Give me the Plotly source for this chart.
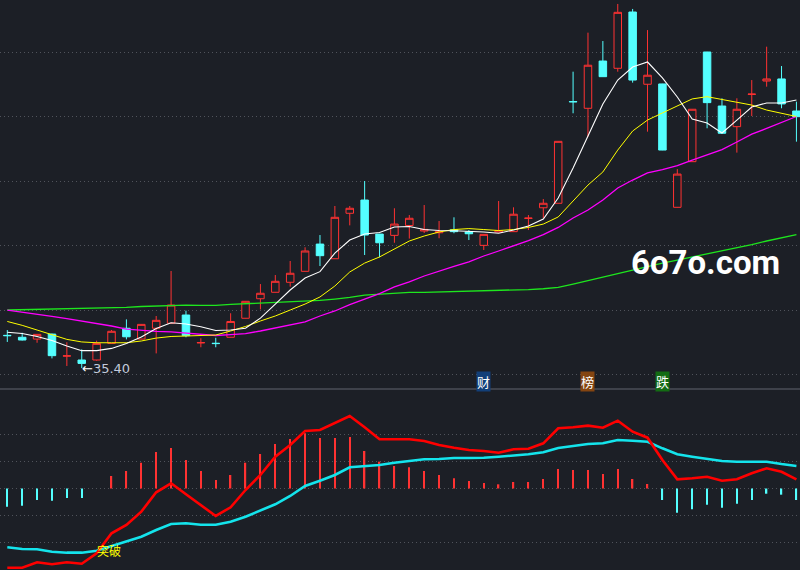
import plotly.graph_objects as go

# ---------------------------------------------------------------------------
# Data
# ---------------------------------------------------------------------------
opens = [37.43, 37.31, 37.20, 37.51, 36.14, 35.90, 35.90, 36.93, 37.87, 37.20,
         37.87, 38.18, 38.69, 36.96, 36.94, 37.31, 38.49, 39.70, 40.10, 40.72,
         41.40, 43.09, 42.18, 45.00, 45.82, 43.71, 43.63, 44.24, 43.90, 43.79,
         43.98, 43.84, 43.01, 43.84, 43.86, 44.68, 45.34, 45.62, 51.93, 51.51,
         54.44, 53.99, 57.48, 53.00, 53.02, 45.37, 48.20, 55.00, 51.65, 50.37,
         52.37, 53.20, 53.33, 51.34]
highs = [37.76, 37.59, 37.49, 37.54, 37.00, 36.56, 37.10, 37.76, 38.42, 38.13,
         38.63, 41.42, 38.96, 37.25, 37.28, 38.80, 39.55, 40.61, 41.17, 42.04,
         42.89, 43.65, 45.45, 45.45, 47.00, 43.72, 45.31, 44.89, 45.51, 44.52,
         44.75, 43.96, 43.70, 45.76, 45.37, 44.89, 45.88, 49.47, 53.78, 56.20,
         55.68, 57.98, 57.67, 56.36, 53.03, 47.74, 51.46, 55.01, 52.13, 52.13,
         53.26, 55.33, 54.13, 51.92]
lows = [37.02, 37.11, 36.97, 36.00, 35.53, 35.40, 35.86, 36.92, 37.18, 37.19,
        36.31, 38.17, 37.31, 36.69, 36.69, 37.30, 38.48, 39.04, 40.09, 40.45,
        41.39, 41.73, 42.17, 44.25, 42.41, 42.27, 43.17, 43.43, 43.78, 43.45,
        43.76, 43.34, 42.72, 43.83, 43.85, 43.96, 44.69, 45.61, 51.20, 49.75,
        53.46, 53.78, 53.10, 50.06, 48.91, 45.36, 48.19, 50.27, 49.95, 48.76,
        51.03, 52.85, 51.51, 49.44]
closes = [37.41, 37.14, 37.49, 36.17, 36.16, 35.69, 36.93, 37.68, 37.34, 38.11,
          38.36, 39.31, 37.41, 36.98, 36.92, 38.29, 39.54, 40.04, 40.78, 41.28,
          42.66, 42.37, 44.75, 45.31, 43.65, 43.17, 44.33, 44.69, 44.00, 43.86,
          43.86, 43.73, 43.69, 43.92, 44.94, 44.70, 45.62, 49.46, 51.91, 54.18,
          53.47, 57.46, 53.26, 53.56, 48.92, 47.43, 51.45, 51.86, 49.96, 51.45,
          52.39, 53.33, 51.78, 50.99]

ma5 = [37.62, 37.54, 37.36, 37.11, 36.77, 36.48, 36.48, 36.62, 36.93, 37.33,
       37.85, 38.21, 38.13, 37.96, 37.73, 37.76, 37.87, 38.50, 39.37, 40.24,
       40.98, 41.38, 42.53, 43.34, 43.71, 43.81, 44.15, 44.18, 43.99, 43.93,
       43.92, 43.90, 43.84, 43.76, 43.96, 44.21, 44.64, 45.95, 47.81, 49.79,
       51.78, 53.26, 54.07, 54.38, 53.39, 52.21, 50.84, 50.60, 49.98, 50.78,
       51.59, 51.84, 51.84, 52.02]
ma10 = [38.29, 38.05, 37.76, 37.45, 37.18, 37.02, 36.97, 36.97, 36.97, 37.08,
        37.26, 37.36, 37.39, 37.39, 37.45, 37.70, 37.98, 38.32, 38.63, 39.00,
        39.37, 39.81, 40.49, 41.36, 41.91, 42.29, 42.78, 43.28, 43.59, 43.84,
        43.99, 44.05, 43.99, 43.93, 43.99, 44.12, 44.33, 44.77, 45.76, 46.75,
        47.56, 48.92, 50.10, 50.78, 51.22, 51.65, 52.09, 52.23, 52.05, 51.90,
        51.71, 51.40, 51.19, 51.00]
ma20 = [39.00, 38.88, 38.75, 38.60, 38.47, 38.32, 38.16, 38.01, 37.82, 37.73,
        37.68, 37.64, 37.56, 37.48, 37.42, 37.48, 37.54, 37.70, 37.88, 38.07,
        38.26, 38.63, 38.94, 39.34, 39.68, 40.02, 40.43, 40.74, 41.11, 41.42,
        41.70, 41.98, 42.35, 42.66, 42.97, 43.31, 43.68, 44.12, 44.71, 45.20,
        45.82, 46.57, 47.06, 47.50, 47.71, 47.96, 48.30, 48.61, 48.95, 49.42,
        49.91, 50.26, 50.63, 51.00]
ma60 = [39.00, 39.02, 39.03, 39.04, 39.06, 39.11, 39.12, 39.14, 39.17, 39.22,
        39.25, 39.30, 39.30, 39.29, 39.29, 39.35, 39.39, 39.42, 39.45, 39.50,
        39.53, 39.60, 39.68, 39.78, 39.93, 39.99, 40.04, 40.09, 40.10, 40.12,
        40.16, 40.20, 40.22, 40.24, 40.24, 40.27, 40.32, 40.41, 40.61, 40.83,
        41.05, 41.26, 41.48, 41.70, 41.91, 42.10, 42.29, 42.47, 42.69, 42.88,
        43.06, 43.28, 43.50, 43.68]

dif = [-1.459, -1.459, -1.359, -1.396, -1.359, -1.385, -1.193, -0.825, -0.672, -0.427,
       -0.070, 0.096, -0.107, -0.304, -0.506, -0.346, -0.028, 0.249, 0.586, 0.801,
       1.059, 1.077, 1.201, 1.335, 1.127, 0.906, 0.906, 0.906, 0.875, 0.801,
       0.751, 0.709, 0.691, 0.659, 0.722, 0.733, 0.832, 1.109, 1.127, 1.157,
       1.120, 1.249, 1.046, 0.936, 0.525, 0.169, 0.188, 0.217, 0.144, 0.169,
       0.280, 0.372, 0.309, 0.169]
dea = [-1.083, -1.114, -1.120, -1.164, -1.182, -1.182, -1.145, -1.059, -0.980, -0.888,
       -0.764, -0.654, -0.641, -0.667, -0.667, -0.611, -0.519, -0.409, -0.291, -0.138,
       0.046, 0.144, 0.249, 0.390, 0.414, 0.433, 0.475, 0.506, 0.538, 0.543,
       0.562, 0.562, 0.567, 0.586, 0.604, 0.630, 0.667, 0.746, 0.783, 0.820,
       0.832, 0.893, 0.880, 0.862, 0.740, 0.630, 0.586, 0.543, 0.506, 0.494,
       0.494, 0.494, 0.451, 0.414]
macd_hist = [-0.335, -0.317, -0.212, -0.225, -0.175, -0.175, 0.0, 0.230, 0.322, 0.475,
             0.672, 0.746, 0.525, 0.322, 0.157, 0.249, 0.475, 0.635, 0.820, 0.912,
             1.017, 0.930, 0.930, 0.948, 0.691, 0.494, 0.414, 0.390, 0.322, 0.249,
             0.188, 0.138, 0.101, 0.077, 0.120, 0.120, 0.175, 0.359, 0.341, 0.341,
             0.267, 0.359, 0.175, 0.083, -0.212, -0.446, -0.383, -0.298, -0.354, -0.280,
             -0.212, -0.096, -0.114, -0.212]

# event tags under the price panel: (bar index, text, background)
tags = [(32, "财", "#123f78"), (39, "榜", "#844511"), (44, "跌", "#136c13")]

x = list(range(len(closes)))

# ---------------------------------------------------------------------------
# Style
# ---------------------------------------------------------------------------
BG = "#1c1f26"
UP = "#ff3232"
DOWN = "#54ffff"
GRID = "#50535b"
CJK = "Noto Sans CJK SC"

fig = go.Figure()

fig.add_trace(go.Candlestick(
    x=x, open=opens, high=highs, low=lows, close=closes,
    increasing=dict(line=dict(color=UP, width=1), fillcolor=BG),
    decreasing=dict(line=dict(color=DOWN, width=1), fillcolor=DOWN),
    whiskerwidth=0,
    hoverinfo="skip",
    yaxis="y",
))

for vals, color, w in [(ma60, "#1ee61e", 1.3), (ma20, "#ff00ff", 1.3),
                       (ma10, "#ffff00", 1.0), (ma5, "#ffffff", 1.1)]:
    fig.add_trace(go.Scatter(x=x, y=vals, mode="lines",
                             line=dict(color=color, width=w),
                             hoverinfo="skip", yaxis="y"))

# MACD panel
fig.add_trace(go.Bar(
    x=x, y=macd_hist, base=0, width=0.09,
    marker=dict(color=[UP if v >= 0 else DOWN for v in macd_hist], line=dict(width=0)),
    hoverinfo="skip", yaxis="y2",
))
fig.add_trace(go.Scatter(x=x, y=dea, mode="lines", line=dict(color="#14e4ec", width=2.6),
                         hoverinfo="skip", yaxis="y2"))
fig.add_trace(go.Scatter(x=x, y=dif, mode="lines", line=dict(color="#ff0000", width=2.6),
                         hoverinfo="skip", yaxis="y2"))

# lowest low marker
i_low = lows.index(min(lows))
fig.add_annotation(
    x=i_low, y=lows[i_low], xref="x", yref="y",
    text=f"<span style='color:#ffffff'>←</span>{lows[i_low]:.2f}",
    showarrow=False, xanchor="left", yanchor="middle", xshift=-2,
    font=dict(family="DejaVu Sans", size=13, color="#c3cbdc"),
)

# golden cross tag
i_cross = next(i for i in range(1, len(dif)) if dif[i] > dea[i] and dif[i - 1] <= dea[i - 1])
fig.add_annotation(
    x=i_cross - 0.2, y=0.035, xref="x", yref="paper",
    text="突破", showarrow=False, xanchor="center", yanchor="middle",
    font=dict(family=CJK, size=12, color="#ffff00"),
)

for i, txt, bg in tags:
    fig.add_annotation(
        x=i, y=0.331, xref="x", yref="paper",
        text=txt, showarrow=False, xanchor="center", yanchor="middle",
        bgcolor=bg, borderpad=0,
        font=dict(family=CJK, size=13, color="#ffffff"),
    )

fig.add_annotation(
    x=0.882, y=0.539, xref="paper", yref="paper",
    text="6o7o.com", showarrow=False, xanchor="center", yanchor="middle",
    font=dict(family="Roboto", size=33, color="#ffffff", weight="bold"),
)

# panel separator
fig.add_shape(type="line", xref="paper", yref="paper", x0=0, x1=1, y0=0.3175, y1=0.3175,
              line=dict(color="#3e414a", width=2))

fig.update_layout(
    width=800, height=570,
    margin=dict(l=0, r=0, t=0, b=0),
    paper_bgcolor=BG, plot_bgcolor=BG,
    showlegend=False,
    hovermode=False,
    boxgap=0.28,
    xaxis=dict(range=[-0.49, 53.24], visible=False, rangeslider=dict(visible=False),
               fixedrange=True),
    yaxis=dict(domain=[0.3175, 1], range=[34.101, 58.225],
               tickvals=[35, 39, 43, 47, 51, 55], showticklabels=False,
               showgrid=True, gridcolor=GRID, griddash="1px,3px", gridwidth=1,
               zeroline=False, showline=False),
    yaxis2=dict(domain=[0, 0.3175], range=[-1.501, 1.832], anchor="x",
                tickvals=[-1, -0.5, 0, 0.5, 1], showticklabels=False,
                showgrid=True, gridcolor=GRID, griddash="1px,3px", gridwidth=1,
                zeroline=False, showline=False),
)

fig.write_html(
    "out.html",
    config={"displayModeBar": False},
    post_script="document.body.style.margin='0px';"
                f"document.body.style.background='{BG}';",
)
